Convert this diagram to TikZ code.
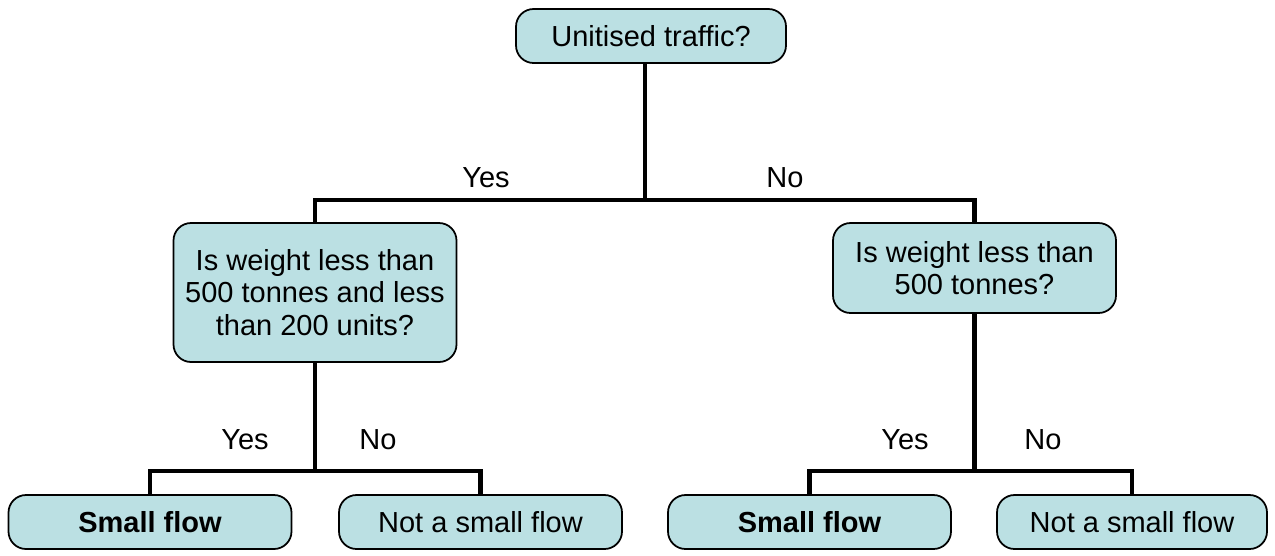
\documentclass[tikz,border=0pt]{standalone}
\usepackage{fontspec}
\setmainfont{Liberation Sans}
\usepackage{xcolor}
\definecolor{boxblue}{RGB}{187,224,227}
\usepackage{tikz}
\usetikzlibrary{calc}
\newcommand{\widthbox}{5.66cm}
\newcommand{\widthend}{5.4cm}
\newcommand{\heightbox}{1.08cm}
\tikzset{
    common/.style={draw, rectangle, rounded corners=10pt, fill=boxblue, line width=1pt,
        align=center, inner sep=2pt, font=\fontsize{16.5}{18.4}\selectfont},
    question/.style={common, minimum width=\widthbox},
    answer/.style={common, minimum width=\widthbox, minimum height=\heightbox},
    branch/.style={line width=2.8pt},
    choice/.style={font=\fontsize{16.5}{18.4}\selectfont}
}
\begin{document}
\begin{tikzpicture}
            \useasboundingbox (0,0) rectangle (25.5,-11.1);

            % root and first split
            \node[answer, minimum width=\widthend] (unitised) at (13.02,-0.72) {Unitised traffic?};
            \coordinate (fork-a) at (12.9,-4);

            \node[question, minimum height=2.78cm] (q-units) at (6.3,-5.85)
                {Is weight less than\\500 tonnes and less\\than 200 units?};
            \node[question, minimum height=1.8cm] (q-tonnes) at (19.49,-5.36)
                {Is weight less than\\500 tonnes?};

            \draw[branch] (unitised.south -| fork-a) -- (fork-a);
            \draw[branch] (q-units.north) |- (fork-a) -| (q-tonnes.north);
            \node[choice] at (9.72,-3.56) {Yes};
            \node[choice] at (15.7,-3.56) {No};

            % leaves
            \coordinate (fork-b) at (6.3,-9.42);
            \coordinate (fork-c) at (19.49,-9.42);

            \node[answer] (small-b) at (3.0,-10.44) {\textbf{Small flow}};
            \node[answer] (not-b) at (9.61,-10.44) {Not a small flow};
            \node[answer] (small-c) at (16.19,-10.44) {\textbf{Small flow}};
            \node[answer, minimum width=\widthend] (not-c) at (22.64,-10.44) {Not a small flow};

            \draw[branch] (q-units.south) -- (fork-b);
            \draw[branch] (small-b.north) |- (fork-b) -| (not-b.north);
            \draw[branch] (q-tonnes.south) -- (fork-c);
            \draw[branch] (small-c.north) |- (fork-c) -| (not-c.north);

            \node[choice] at (4.9,-8.8) {Yes};
            \node[choice] at (7.56,-8.8) {No};
            \node[choice] at (18.1,-8.8) {Yes};
            \node[choice] at (20.86,-8.8) {No};
\end{tikzpicture}
\end{document}
